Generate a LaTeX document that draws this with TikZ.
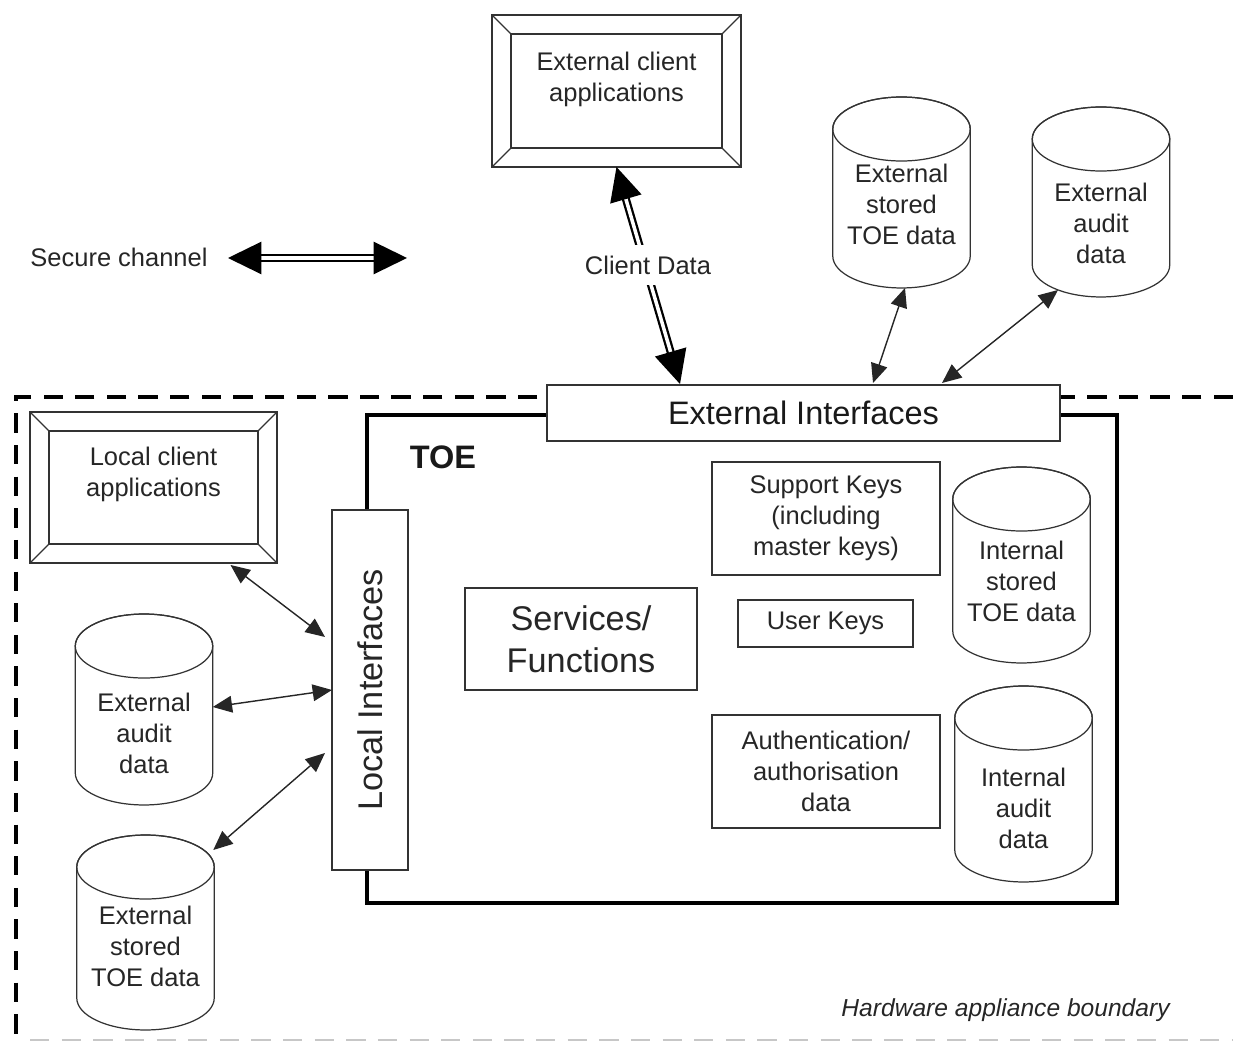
\documentclass[tikz,border=0pt]{standalone}
\usepackage{fontspec}
\setmainfont{Liberation Sans}
\usetikzlibrary{calc,arrows.meta}
\newcommand\bevelbox[1]{%
  \draw[thinln] ([shift={(19,-19)}]#1.north west) rectangle ([shift={(-19,19)}]#1.south east);
  \draw[thinln] (#1.north west) -- ++(19,-19);
  \draw[thinln] (#1.north east) -- ++(-19,-19);
  \draw[thinln] (#1.south west) -- ++(19,19);
  \draw[thinln] (#1.south east) -- ++(-19,19);
}
\newcommand\cyl[6]{%
  \node[inner sep=0pt, outer sep=0pt, minimum width=2.75cm, minimum height=#4] (#1) at (#2,#3) {};
  \draw[thinln, fill=white] ([yshift=-0.64cm]#1.north west) -- ([yshift=0.64cm]#1.south west)
     arc[start angle=180,end angle=360,x radius=1.375cm,y radius=0.64cm]
     -- ([yshift=-0.64cm]#1.north east)
     arc[start angle=0,end angle=180,x radius=1.375cm,y radius=0.64cm] -- cycle;
  \draw[thinln] ([yshift=-0.64cm]#1.north) ellipse[x radius=1.375cm,y radius=0.64cm];
  \node[txt] at ($(#1.center)+(0,#5)$) {#6};
}
\newcommand\dblarrow[2]{%
  \coordinate (da1) at ($(#1)!19pt!(#2)$);
  \coordinate (da2) at ($(#2)!19pt!(#1)$);
  \coordinate (db1) at ($(#1)!17pt!(#2)$);
  \coordinate (db2) at ($(#2)!17pt!(#1)$);
  \draw[dblshaft] (db1) -- (db2);
  \fill[black] (#1) -- ($(da1)!9.3pt!90:(#1)$) -- ($(da1)!9.3pt!-90:(#1)$) -- cycle;
  \fill[black] (#2) -- ($(da2)!9.3pt!90:(#2)$) -- ($(da2)!9.3pt!-90:(#2)$) -- cycle;
}
\begin{document}
\begin{tikzpicture}[x=0.02cm,y=0.02cm,
  txt/.style={font=\fontsize{14.5}{17.6}\selectfont, text=black!85, align=center, inner sep=0pt},
  bigtxt/.style={font=\fontsize{19.5}{24}\selectfont, text=black!85, align=center, inner sep=0pt},
  plainbox/.style={draw=black!80, line width=0.7pt, fill=white, inner sep=0pt, outer sep=0pt, align=center},
  thinln/.style={draw=black!80, line width=0.7pt},
  conn/.style={draw=black!85, line width=0.8pt, {Triangle[length=11pt,width=9.5pt]}-{Triangle[length=11pt,width=9.5pt]}},
  dblshaft/.style={draw=black, double=white, double distance=2pt, line width=1.3pt},
  boundary/.style={draw=black, line width=2.2pt, dash pattern=on 11pt off 7pt},
]
\useasboundingbox (0,0) rectangle (1233,1045);

% appliance boundary
\draw[boundary] (1233,648) -- (16,648) -- (16,0);
\draw[draw=black!22, line width=1.6pt, dash pattern=on 11pt off 7pt] (30,5) -- (1233,5);

% TOE
\node[draw=black, line width=2.2pt, inner sep=0pt, minimum width=15cm, minimum height=9.76cm] (toe) at (742,386) {};
\node[font=\bfseries\fontsize{18.5}{22}\selectfont, text=black!90, inner sep=0pt] (toelbl) at (443,588) {TOE};

% interfaces
\node[plainbox, minimum width=10.26cm, minimum height=1.12cm, font=\fontsize{18.5}{22}\selectfont, text=black!90] (ei) at (803.5,632) {External Interfaces};
\node[plainbox, minimum width=1.52cm, minimum height=7.2cm] (li) at (370,355) {};
\node[bigtxt, rotate=90] (litxt) at (li.center) {Local Interfaces};

% client applications
\node[plainbox, minimum width=4.98cm, minimum height=3.04cm] (eca) at (616.5,954) {};
\bevelbox{eca}
\node[txt] (ecatxt) at ($(eca.center)+(0,12)$) {External client\\applications};
\node[plainbox, minimum width=4.94cm, minimum height=3.02cm] (lca) at (153.5,557.5) {};
\bevelbox{lca}
\node[txt] (lcatxt) at ($(lca.center)+(0,13)$) {Local client\\applications};

% legend
\node[txt] (sctxt) at (119,788) {Secure channel};
\coordinate (sc1) at (228,787);
\coordinate (sc2) at (407,787);
\dblarrow{sc1}{sc2}

% cylinders
\cyl{est}{901.5}{852.5}{3.82cm}{-11.5}{External\\stored\\TOE data}
\cyl{eat}{1101}{843}{3.8cm}{-21}{External\\audit\\data}
\cyl{isd}{1021.5}{480}{3.92cm}{-16}{Internal\\stored\\TOE data}
\cyl{iad}{1023.5}{261}{3.92cm}{-24}{Internal\\audit\\data}
\cyl{eal}{144}{335.5}{3.82cm}{-23.5}{External\\audit\\data}
\cyl{esl}{145.5}{112.5}{3.9cm}{-13.5}{External\\stored\\TOE data}

% internal boxes
\node[plainbox, minimum width=4.64cm, minimum height=2.04cm, font=\fontsize{19.5}{24}\selectfont, text=black!85] (svc) at (581,406) {Services/\\Functions};
\node[plainbox, minimum width=4.56cm, minimum height=2.26cm, font=\fontsize{14.5}{17.6}\selectfont, text=black!85] (spk) at (826,526.5) {Support Keys\\(including\\master keys)};
\node[plainbox, minimum width=3.5cm, minimum height=0.94cm, font=\fontsize{14.5}{17.6}\selectfont, text=black!85] (usk) at (825.5,421.5) {User Keys};
\node[plainbox, minimum width=4.56cm, minimum height=2.26cm, font=\fontsize{14.5}{17.6}\selectfont, text=black!85] (auth) at (826,273.5) {Authentication/\\authorisation\\data};

% connectors
\draw[conn] ($(lca.south)+(77,-2)$) -- ($(li.west)+(-7,53)$);
\draw[conn] ($(eal.east)+(0,2.5)$) -- (li.west);
\draw[conn] ($(esl.north east)+(-1,-15)$) -- ($(li.west)+(-7,-63)$);
\draw[conn] ($(ei.north)+(69.5,2)$) -- ($(est.south)+(3.5,0)$);
\draw[conn] ($(ei.north)+(138.5,2)$) -- ($(eat.south)+(-43,7)$);

% client data
\coordinate (cd1) at ($(ei.north)+(-123.5,1)$);
\dblarrow{cd1}{eca.south}
\node[txt, fill=white, inner ysep=6pt, inner xsep=2pt] (cdl) at (648,780) {Client Data};

% caption
\node[font=\itshape\fontsize{14}{17}\selectfont, text=black!85, anchor=east, inner sep=0pt] (hab) at (1170,35) {Hardware appliance boundary};
\end{tikzpicture}
\end{document}
